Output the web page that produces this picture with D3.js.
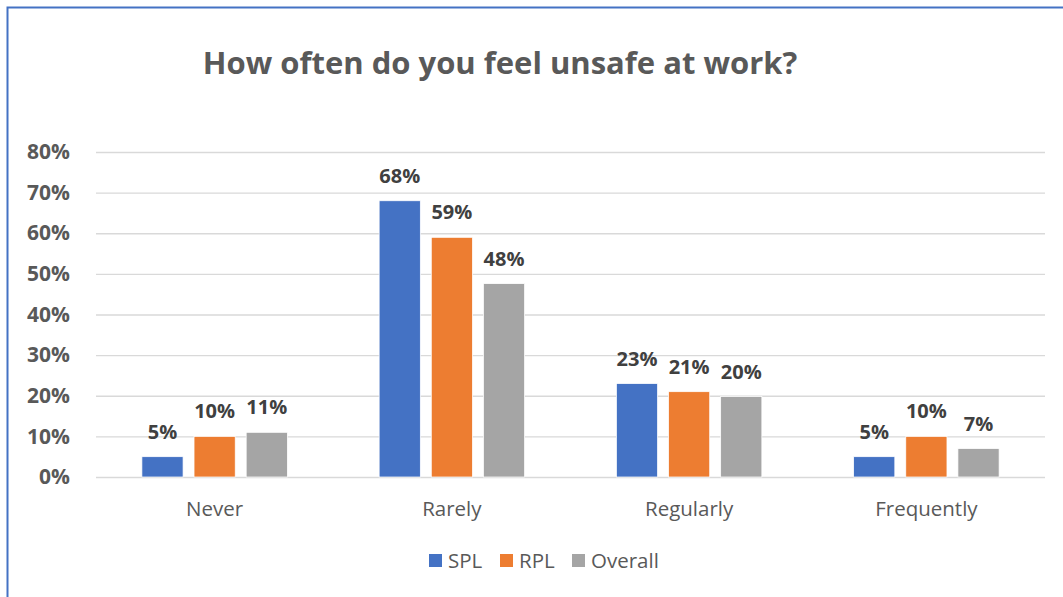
<!DOCTYPE html>
<html lang="en">
<head>
    <meta charset="UTF-8">
    <title>How often do you feel unsafe at work?</title>
    <script src="https://d3js.org/d3.v7.min.js"></script>
    <style>
        body { margin: 0; background: #fff; }
        text { font-family: "Open Sans", "Noto Sans", sans-serif; }
    </style>
</head>
<body>
    <svg width="1063" height="597"></svg>
    <script>

// Chart data
const categories = ["Never", "Rarely", "Regularly", "Frequently"];
const seriesNames = ["SPL", "RPL", "Overall"];
const splValues = [0.05, 0.68, 0.23, 0.05];
const rplValues = [0.10, 0.59, 0.21, 0.10];
const overallValues = [0.11, 0.476, 0.198, 0.07];
const yTicks = [0, 0.1, 0.2, 0.3, 0.4, 0.5, 0.6, 0.7, 0.8];

const colors = ["#4472C4", "#ED7D31", "#A5A5A5"];
const allSeries = [splValues, rplValues, overallValues];

const svg = d3.select("svg");

// chart border (runs off the right / bottom of the window)
svg.append("rect")
    .attr("x", 7.5).attr("y", 7.5)
    .attr("width", 1100).attr("height", 700)
    .attr("fill", "none")
    .attr("stroke", "#4472C4")
    .attr("stroke-width", 2);

const plotLeft = 96, plotRight = 1045, plotTop = 152, plotBottom = 477;

const x = d3.scaleBand().domain(categories).range([plotLeft, plotRight]).paddingInner(0).paddingOuter(0);
const x1 = d3.scaleBand().domain(seriesNames).range([0, x.bandwidth()]).paddingInner(0.21).paddingOuter(0.88);
const y = d3.scaleLinear().domain([0, 0.8]).range([plotBottom, plotTop]);

// title
svg.append("text")
    .attr("x", 500).attr("y", 74)
    .attr("text-anchor", "middle")
    .attr("font-size", 31)
    .attr("font-weight", "bold")
    .attr("fill", "#595959")
    .text("How often do you feel unsafe at work?");

// gridlines + y labels
const yAxis = svg.append("g")
    .attr("transform", `translate(${plotLeft},0)`)
    .call(d3.axisLeft(y).tickValues(yTicks).tickFormat(d3.format(".0%")).tickSize(-(plotRight - plotLeft)).tickPadding(26));
yAxis.select(".domain").remove();
yAxis.selectAll(".tick line").attr("stroke", "#d9d9d9").attr("stroke-width", 1.3);
yAxis.selectAll(".tick text")
    .attr("font-size", 21)
    .attr("font-weight", "bold")
    .attr("fill", "#595959")
    .attr("font-family", "'Open Sans', sans-serif");

// x labels
const xAxis = svg.append("g")
    .attr("transform", `translate(0,${plotBottom})`)
    .call(d3.axisBottom(x).tickSize(0).tickPadding(24));
xAxis.select(".domain").remove();
xAxis.selectAll(".tick text")
    .attr("font-size", 20.5)
    .attr("fill", "#595959")
    .attr("font-family", "'Open Sans', sans-serif");

// bars
const groups = svg.selectAll(".cat")
    .data(categories)
    .enter().append("g")
    .attr("class", "cat")
    .attr("transform", d => `translate(${x(d)},0)`);

seriesNames.forEach((s, si) => {
    groups.append("rect")
        .attr("x", x1(s))
        .attr("y", (d, i) => y(allSeries[si][i]))
        .attr("width", x1.bandwidth())
        .attr("height", (d, i) => plotBottom - y(allSeries[si][i]))
        .attr("fill", colors[si])
        .attr("stroke", "#fff")
        .attr("stroke-width", 0.75);

    groups.append("text")
        .attr("x", x1(s) + x1.bandwidth() / 2)
        .attr("y", (d, i) => y(allSeries[si][i]) - 18)
        .attr("text-anchor", "middle")
        .attr("font-size", 20)
        .attr("font-weight", "bold")
        .attr("fill", "#404040")
        .text((d, i) => d3.format(".0%")(allSeries[si][i]));
});

// legend
const legend = svg.append("g").attr("transform", "translate(429,561)");
const legendX = [0, 71, 143];
seriesNames.forEach((s, i) => {
    const lg = legend.append("g").attr("transform", `translate(${legendX[i]},0)`);
    lg.append("rect")
        .attr("x", 0).attr("y", -7)
        .attr("width", 13).attr("height", 13)
        .attr("fill", colors[i]);
    lg.append("text")
        .attr("x", 19).attr("y", 7)
        .attr("font-size", 20.5)
        .attr("fill", "#595959")
        .text(s);
});

    </script>
</body>
</html>
